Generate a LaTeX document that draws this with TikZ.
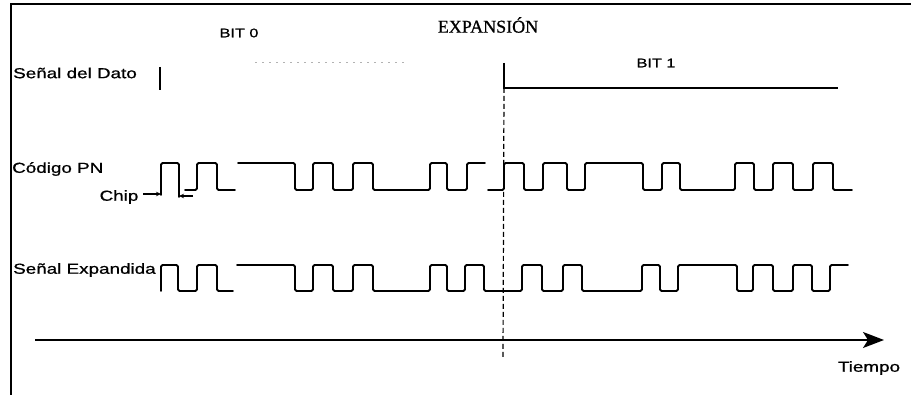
\documentclass[tikz,border=0pt]{standalone}
\usepackage{fontspec}
\setmainfont{Liberation Sans}[FakeStretch=1.3,FakeBold=0.8]
\newfontfamily\serifx{Liberation Serif}[FakeBold=0.8]
\usetikzlibrary{arrows.meta}
\begin{document}
\begin{tikzpicture}[x=1pt,y=-1pt,
  lbl/.style={inner sep=0pt,font=\fontsize{14.5}{16}\selectfont},
  bitlbl/.style={inner sep=0pt,font=\fontsize{12.5}{14}\selectfont},
  wave/.style={line width=1.9pt,line cap=round,line join=round,rounded corners=1.5pt},
  thin/.style={line width=1.3pt},
  chiparrow/.style={line width=1.3pt,-{Stealth[length=5pt,width=4.5pt]}}]
\useasboundingbox (0,0) rectangle (911,395);
% frame
\draw[thin] (911,4) -- (11,4) -- (11,395);
% labels
\node[inner sep=0pt,font=\serifx\fontsize{18}{20}\selectfont] (exp) at (488,25) {EXPANSIÓN};
\node[bitlbl] (bit0) at (239,33) {BIT 0};
\node[bitlbl] (bit1) at (656,63) {BIT 1};
\node[lbl,anchor=west] (dato) at (13,73) {Señal del Dato};
\node[lbl,anchor=west] (pn) at (12,169) {Código PN};
\node[lbl] (chip) at (119,197) {Chip};
\node[lbl,anchor=west] (exps) at (13,270) {Señal Expandida};
\node[lbl] (tiempo) at (869,368) {Tiempo};
% data signal
\draw[thin] (160,67) -- (160,90);
\draw[gray!60,line width=0.8pt,dash pattern=on 2pt off 5pt] (255,62) -- (405,62);
\coordinate (d1a) at (504,63);
\coordinate (d1b) at (504,88);
\coordinate (d1c) at (838,88);
\draw[thin] (d1a) -- (d1b) -- (d1c);
% dashed boundary
\coordinate (bnd) at (503,358);
\draw[line width=1.2pt,dash pattern=on 5pt off 3pt] (d1b) -- (bnd);
% PN code
\draw[wave] (161,195) -- (161,163) -- (179,163) -- (179,197);
\draw[wave] (185,190) -- (197,190) -- (197,163) -- (217,163) -- (217,190) -- (235,190);
\draw[wave] (238,163) -- (295,163) -- (295,190) -- (313,190) -- (313,163) -- (333,163) -- (333,190) -- (353,190) -- (353,163) -- (373,163) -- (373,190) -- (430,190) -- (430,163) -- (447,163) -- (447,190) -- (467,190) -- (467,163) -- (485,163);
\draw[wave] (488,190) -- (504,190) -- (504,163) -- (524,163) -- (524,190) -- (543,190) -- (543,163) -- (567,163) -- (567,190) -- (585,190) -- (585,163) -- (643,163) -- (643,190) -- (662,190) -- (662,163) -- (680,163) -- (680,190) -- (735,190) -- (735,163) -- (754,163) -- (754,190) -- (773,190) -- (773,163) -- (793,163) -- (793,190) -- (813,190) -- (813,163) -- (833,163) -- (833,190) -- (852,190);
% chip arrows
\coordinate (ca1) at (143,194);
\coordinate (ca2) at (161,194);
\coordinate (cb1) at (193,196);
\coordinate (cb2) at (179,196);
\draw[chiparrow] (ca1) -- (ca2);
\draw[chiparrow] (cb1) -- (cb2);
% expanded signal
\draw[wave] (161,291) -- (161,265) -- (178,265) -- (178,291) -- (197,291) -- (197,265) -- (217,265) -- (217,291) -- (233,291);
\draw[wave] (237,265) -- (295,265) -- (295,291) -- (313,291) -- (313,265) -- (333,265) -- (333,291) -- (353,291) -- (353,265) -- (373,265) -- (373,291) -- (430,291) -- (430,265) -- (447,265) -- (447,291) -- (465,291) -- (465,265) -- (484,265) -- (484,291) -- (522,291) -- (522,265) -- (542,265) -- (542,291) -- (563,291) -- (563,265) -- (582,265) -- (582,291) -- (642,291) -- (642,265) -- (660,265) -- (660,291) -- (678,291) -- (678,265) -- (737,265) -- (737,291) -- (753,291) -- (753,265) -- (773,265) -- (773,291) -- (793,291) -- (793,265) -- (812,265) -- (812,291) -- (830,291) -- (830,265) -- (848,265);
% time axis
\coordinate (t0) at (35,340);
\coordinate (t1) at (884,340);
\draw[line width=1.5pt,-{Stealth[length=21pt,width=16pt,inset=5pt]}] (t0) -- (t1);
\end{tikzpicture}
\end{document}
